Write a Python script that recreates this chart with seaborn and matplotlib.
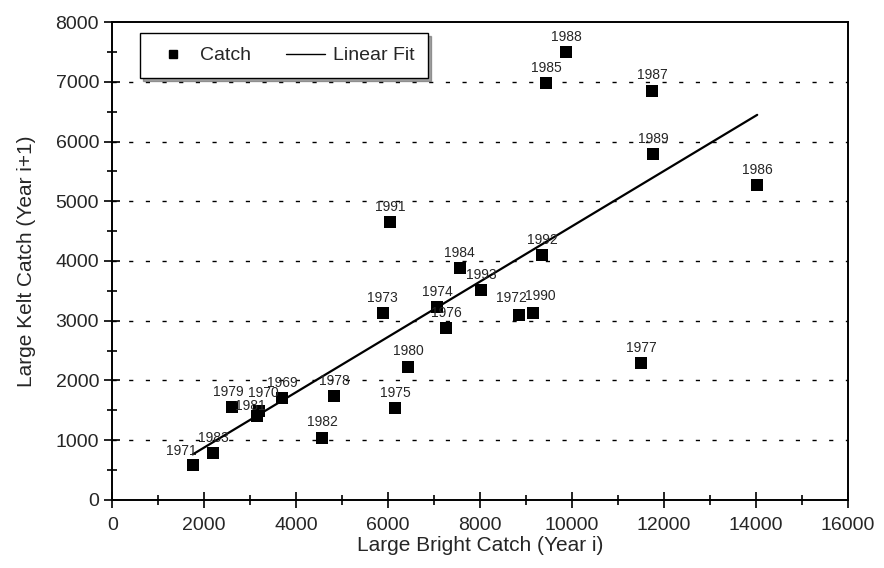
import numpy as np
import pandas as pd
import matplotlib.pyplot as plt
import seaborn as sns
from matplotlib.ticker import MultipleLocator
from matplotlib.lines import Line2D

# values
years = ["1969", "1970", "1971", "1972", "1973", "1974", "1975", "1976",
         "1977", "1978", "1979", "1980", "1981", "1982", "1983", "1984",
         "1985", "1986", "1987", "1988", "1989", "1990", "1991", "1992", "1993"]
bright = [3700, 3200, 1750, 8840, 5880, 7070, 6160, 7260,
          11510, 4830, 2610, 6440, 3150, 4570, 2200, 7560,
          9440, 14030, 11750, 9870, 11770, 9160, 6050, 9350, 8020]
kelt = [1700, 1480, 590, 3100, 3130, 3230, 1540, 2880,
        2290, 1740, 1550, 2230, 1400, 1040, 780, 3880,
        6980, 5270, 6850, 7500, 5790, 3130, 4650, 4100, 3510]

df = pd.DataFrame({"year": years, "bright": bright, "kelt": kelt})

sns.set_style("ticks")
plt.rcParams["font.family"] = ["Liberation Sans", "DejaVu Sans"]

fig, ax = plt.subplots(figsize=(8.84, 5.68), dpi=100)
fig.subplots_adjust(left=0.127, right=0.959, bottom=0.12, top=0.961)

sns.regplot(data=df, x="bright", y="kelt", ci=None, ax=ax, marker="s",
            scatter_kws=dict(s=75, color="black", linewidths=0, alpha=1),
            line_kws=dict(color="black", lw=1.6))

# a few labels sit a little off-centre in the original
nudge = {"1971": (-8, 5), "1970": (3, 8), "1981": (-5, 2), "1979": (-3, 6),
         "1972": (-5, 7), "1990": (5, 7)}
for yr, xv, yv in zip(df["year"], df["bright"], df["kelt"]):
    dx, dy = nudge.get(yr, (0, 6))
    ax.annotate(yr, (xv, yv), xytext=(dx, dy), textcoords="offset points",
                ha="center", va="bottom", fontsize=10)

ax.set_xlim(0, 16000)
ax.set_ylim(0, 8000)
ax.xaxis.set_major_locator(MultipleLocator(2000))
ax.xaxis.set_minor_locator(MultipleLocator(1000))
ax.yaxis.set_major_locator(MultipleLocator(1000))
ax.yaxis.set_minor_locator(MultipleLocator(500))
ax.tick_params(which="both", direction="inout", color="black", width=1.2)
ax.tick_params(which="major", length=12, labelsize=14)
ax.tick_params(which="minor", length=7)
ax.tick_params(axis="x", pad=6)

for gy in range(1000, 8000, 1000):
    ax.axhline(gy, color="black", lw=1, ls=(0, (3, 9)), zorder=0)

for sp in ax.spines.values():
    sp.set_visible(True)
    sp.set_color("black")
    sp.set_linewidth(1.4)

ax.set_xlabel("Large Bright Catch (Year i)", fontsize=15, labelpad=2)
ax.set_ylabel("Large Kelt Catch (Year i+1)", fontsize=15, labelpad=14)

handles = [Line2D([], [], marker="s", ls="none", color="black", markersize=6),
           Line2D([], [], color="black", lw=1)]
ax.legend(handles, ["Catch", "Linear Fit"], ncol=2, loc="upper left",
          bbox_to_anchor=(0.038, 0.977), borderaxespad=0, fontsize=14,
          frameon=True, fancybox=False, shadow=True, framealpha=1,
          edgecolor="black", handlelength=2.0, handletextpad=0.4,
          columnspacing=1.8, borderpad=0.7)

fig.savefig("out.png", dpi=100)
